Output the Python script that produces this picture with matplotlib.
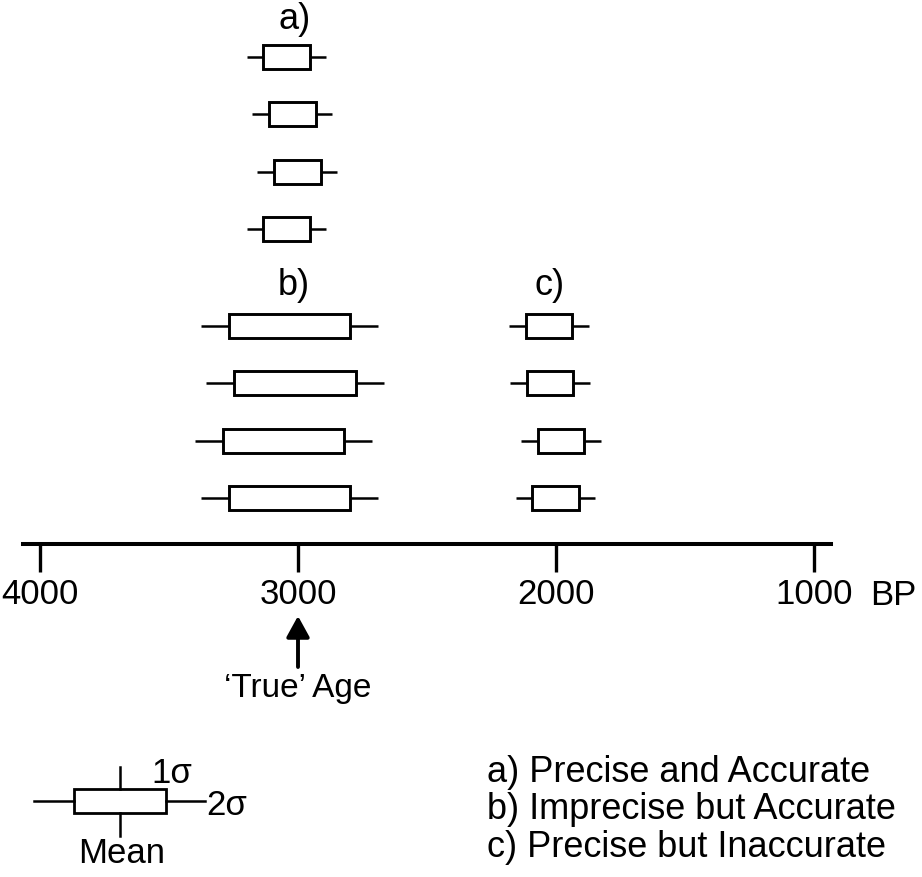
import matplotlib
matplotlib.use("Agg")
import matplotlib.pyplot as plt
from matplotlib.patches import Rectangle

plt.rcParams["font.family"] = ["Liberation Sans", "DejaVu Sans"]

# Ages in years BP: mean, 1 sigma and 2 sigma half widths per measurement
a_mean = [3045, 3023, 3002, 3045]
a_1s   = [92, 91, 91, 92]
a_2s   = [154, 156, 155, 154]

b_mean = [3033, 3012, 3056, 3033]
b_1s   = [235, 236, 235, 235]
b_2s   = [343, 344, 342, 343]

c_mean = [2027, 2024, 1980, 2002]
c_1s   = [90, 89, 90, 91]
c_2s   = [154, 154, 155, 154]

true_age  = 3000
age_ticks = [4000, 3000, 2000, 1000]
legend_lines = ["a) Precise and Accurate",
                "b) Imprecise but Accurate",
                "c) Precise but Inaccurate"]

# Layout (pixels)
W, H      = 922, 878
px_yr     = 0.258
x_4000    = 40
left_px   = 23
right_px  = 831
axis_y    = 545
row_step  = 57.3
box_h     = 24

fig = plt.figure(figsize=(W / 100, H / 100), dpi=100)
ax = fig.add_axes([left_px / W, 1 - axis_y / H, (right_px - left_px) / W, axis_y / H])
ax.set_xlim(4000 + (x_4000 - left_px) / px_yr, 4000 - (right_px - x_4000) / px_yr)
ax.set_ylim(axis_y, 0)
ax.patch.set_visible(False)

for s in ["top", "left", "right"]:
    ax.spines[s].set_visible(False)
ax.spines["bottom"].set_linewidth(2.9)
ax.set_yticks([])
ax.set_xticks(age_ticks)
ax.set_xticklabels([str(t) for t in age_ticks])
ax.tick_params(axis="x", direction="out", length=20, width=2.4, pad=4, labelsize=25)


def draw_row(mean, s1, s2, y):
    ax.plot([mean + s2, mean + s1], [y, y], color="black", lw=1.8, solid_capstyle="butt")
    ax.plot([mean - s1, mean - s2], [y, y], color="black", lw=1.8, solid_capstyle="butt")
    ax.add_patch(Rectangle((mean - s1, y - box_h / 2), 2 * s1, box_h,
                           fill=False, edgecolor="black", lw=2.1))


for i in range(4):
    draw_row(a_mean[i], a_1s[i], a_2s[i], 58 + i * row_step)
    draw_row(b_mean[i], b_1s[i], b_2s[i], 327 + i * row_step)
    draw_row(c_mean[i], c_1s[i], c_2s[i], 327 + i * row_step)

ax.text(3015, 20, "a)", ha="center", va="center", fontsize=26)
ax.text(3015, 286, "b)", ha="center", va="center", fontsize=26)
ax.text(2025, 286, "c)", ha="center", va="center", fontsize=26)

ax.text(694, 605, "BP", ha="center", va="baseline", fontsize=25, clip_on=False)

# 'True' age arrow
ax.annotate("", xy=(true_age, 617), xytext=(true_age, 668),
            arrowprops=dict(arrowstyle="-|>,head_length=0.4,head_width=0.22",
                            mutation_scale=32, lw=2.8, color="black",
                            shrinkA=0, shrinkB=0),
            annotation_clip=False)
ax.text(true_age, 697, "\u2018True\u2019 Age", ha="center", va="baseline",
        fontsize=24, clip_on=False)

# Key and legend text, in pixel coordinates
ov = fig.add_axes([0, 0, 1, 1])
ov.set_xlim(0, W)
ov.set_ylim(H, 0)
ov.axis("off")
ov.patch.set_visible(False)

ov.plot([34, 74], [802, 802], color="black", lw=1.8)
ov.plot([166, 205], [802, 802], color="black", lw=1.8)
ov.add_patch(Rectangle((74, 790), 92, 24, fill=False, edgecolor="black", lw=2.0))
ov.plot([120, 120], [768, 790], color="black", lw=1.8)
ov.plot([120, 120], [814, 837], color="black", lw=1.8)
ov.text(151, 783, "1\u03c3", ha="left", va="baseline", fontsize=25)
ov.text(206, 815, "2\u03c3", ha="left", va="baseline", fontsize=25)
ov.text(122, 863, "Mean", ha="center", va="baseline", fontsize=25)

for i, line in enumerate(legend_lines):
    ov.text(487, 782 + i * 37.5, line, ha="left", va="baseline", fontsize=26)

fig.savefig("out.png", dpi=100, facecolor="white")
